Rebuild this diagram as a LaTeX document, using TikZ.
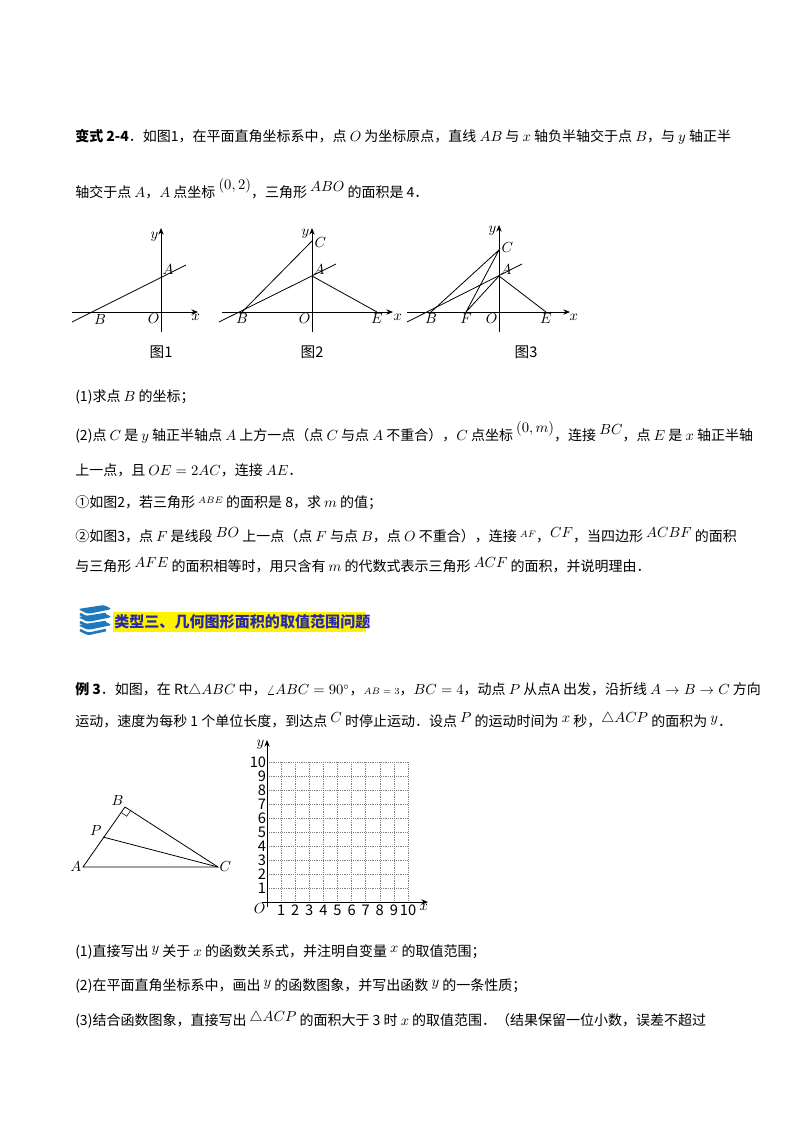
\documentclass[tikz,border=0pt]{standalone}
\usepackage{fontspec}
\setmainfont{Noto Sans CJK SC}
\usetikzlibrary{arrows.meta,calc}
\definecolor{bk}{RGB}{30,120,190}
\definecolor{hd}{RGB}{40,40,170}
\begin{document}
\begin{tikzpicture}[x=0.75pt,y=-0.75pt,
 txt/.style={anchor=west,inner sep=0pt,font=\fontsize{10.5}{12}\selectfont},
 lb/.style={inner sep=1pt,font=\fontsize{11}{12}\selectfont},
 ax/.style={-{Stealth[length=5pt,width=4pt]},line width=0.6pt},
 ln/.style={line width=0.6pt},
 grd/.style={densely dotted,gray,line width=0.4pt}]
\useasboundingbox (0,0) rectangle (800,1132);
% text
\node[txt] (t1) at (75,137) {\textbf{变式 2-4}．如图1，在平面直角坐标系中，点 $O$ 为坐标原点，直线 $AB$ 与 $x$ 轴负半轴交于点 $B$，与 $y$ 轴正半};
\node[txt] (t2) at (75,189) {轴交于点 $A$，$A$ 点坐标 $\raisebox{6pt}{$(0,2)$}$，三角形 $\raisebox{5pt}{$ABO$}$ 的面积是 4．};
\node[txt] (t3) at (75,397) {(1)求点 $B$ 的坐标；};
\node[txt] (t4) at (75,432) {(2)点 $C$ 是 $y$ 轴正半轴点 $A$ 上方一点（点 $C$ 与点 $A$ 不重合），$C$ 点坐标 $\raisebox{6pt}{$(0,m)$}$，连接 $\raisebox{4pt}{$BC$}$，点 $E$ 是 $x$ 轴正半轴};
\node[txt] (t5) at (75,470) {上一点，且 $OE=2AC$，连接 $AE$．};
\node[txt] (t6) at (75,503) {①如图2，若三角形 $\raisebox{3pt}{\scriptsize$ABE$}$ 的面积是 8，求 $m$ 的值；};
\node[txt] (t7) at (75,535) {②如图3，点 $F$ 是线段 $\raisebox{3pt}{$BO$}$ 上一点（点 $F$ 与点 $B$，点 $O$ 不重合），连接 $\raisebox{3pt}{\scriptsize$AF$}$，$\raisebox{3pt}{$CF$}$，当四边形 $\raisebox{3pt}{$ACBF$}$ 的面积};
\node[txt] (t8) at (75,565) {与三角形 $\raisebox{3pt}{$AFE$}$ 的面积相等时，用只含有 $m$ 的代数式表示三角形 $\raisebox{3pt}{$ACF$}$ 的面积，并说明理由．};
% heading
\fill[yellow] (113,612) rectangle (366,632);
\node[txt,text=hd,font=\fontsize{11.3}{12}\selectfont] (h) at (114,622) {\textbf{类型三、几何图形面积的取值范围问题}};
\foreach \d in {0,8,16}{
 \fill[bk,rounded corners=2pt] (78,609+\d) -- (104,605+\d) -- (112,609+\d) -- (88,614+\d) -- cycle;
 \draw[bk,line width=2pt,rounded corners=2pt] (106,614+\d) -- (88,618+\d) -- (80,614+\d);}
\node[txt] (t9) at (75,690) {\textbf{例 3}．如图，在 Rt$\triangle ABC$ 中，$\angle ABC=90^\circ$，{\scriptsize$AB=3$}，$BC=4$，动点 $P$ 从点A 出发，沿折线 $A\to B\to C$ 方向};
\node[txt] (t10) at (75,720) {运动，速度为每秒 1 个单位长度，到达点 $\raisebox{3pt}{$C$}$ 时停止运动．设点 $\raisebox{3pt}{$P$}$ 的运动时间为 $\raisebox{3pt}{$x$}$ 秒，$\raisebox{3pt}{$\triangle ACP$}$ 的面积为 $\raisebox{3pt}{$y$}$．};
\node[txt] (t11) at (75,952) {(1)直接写出 $\raisebox{3pt}{$y$}$ 关于 $x$ 的函数关系式，并注明自变量 $\raisebox{3pt}{$x$}$ 的取值范围；};
\node[txt] (t12) at (75,986) {(2)在平面直角坐标系中，画出 $\raisebox{3pt}{$y$}$ 的函数图象，并写出函数 $\raisebox{3pt}{$y$}$ 的一条性质；};
\node[txt] (t13) at (75,1020) {(3)结合函数图象，直接写出 $\raisebox{3pt}{$\triangle ACP$}$ 的面积大于 3 时 $x$ 的取值范围．（结果保留一位小数，误差不超过};
% fig 1
\coordinate (O1) at (161,312); \coordinate (A1) at (161,276); \coordinate (B1) at (97,312);
\draw[ax] (72,312) -- (198,312);
\draw[ax] (161,332) -- (161,228);
\draw[ln] (72,322) -- (186,265);
\node[lb,anchor=south east] at (160,243) {$y$};
\node[lb,anchor=north west] at (190,313) {$x$};
\node[lb,anchor=south west] at (A1) {$A$};
\node[lb,anchor=north] at (100,313) {$B$};
\node[lb,anchor=north east] at (O1) {$O$};
\node[lb] at (161,352) {图1};
% fig 2
\coordinate (O2) at (312,312); \coordinate (A2) at (312,276); \coordinate (B2) at (242,312);
\coordinate (C2) at (312,241); \coordinate (E2) at (377,312);
\draw[ax] (222,312) -- (393,312);
\draw[ax] (312,332) -- (312,228);
\draw[ln] (219,322) -- (336,264);
\draw[ln] (B2) -- (C2); \draw[ln] (A2) -- (E2);
\node[lb,anchor=south east] at (311,240) {$y$};
\node[lb,anchor=north west] at (392,313) {$x$};
\node[lb,anchor=west] at (313,243) {$C$};
\node[lb,anchor=south west] at (A2) {$A$};
\node[lb,anchor=north] at (B2) {$B$};
\node[lb,anchor=north east] at (O2) {$O$};
\node[lb,anchor=north] at (E2) {$E$};
\node[lb] at (312,352) {图2};
% fig 3
\coordinate (O3) at (499,312); \coordinate (A3) at (499,276); \coordinate (B3) at (431,312);
\coordinate (C3) at (499,250); \coordinate (E3) at (546,312); \coordinate (F3) at (466,312);
\draw[ax] (407,312) -- (570,312);
\draw[ax] (499,332) -- (499,225);
\draw[ln] (407,322) -- (522,264);
\draw[ln] (B3) -- (C3) -- (F3) -- (A3) -- (E3);
\node[lb,anchor=south east] at (498,237) {$y$};
\node[lb,anchor=north west] at (568,313) {$x$};
\node[lb,anchor=west] at (500,248) {$C$};
\node[lb,anchor=south west] at (A3) {$A$};
\node[lb,anchor=north] at (B3) {$B$};
\node[lb,anchor=north] at (F3) {$F$};
\node[lb,anchor=north east] at (O3) {$O$};
\node[lb,anchor=north] at (E3) {$E$};
\node[lb] at (526,352) {图3};
% triangle
\coordinate (A) at (83,867); \coordinate (B) at (125,807); \coordinate (C) at (218,867); \coordinate (P) at (103,837);
\draw[ln] (A) -- (B) -- (C) -- cycle; \draw[ln] (P) -- (C);
\draw[line width=0.4pt] ($(B)!5pt!(A)$) -- ($(B)!5pt!(A)!5pt!90:(A)$) -- ($(B)!5pt!(C)$);
\node[lb,anchor=east] at (A) {$A$};
\node[lb,anchor=south east] at (B) {$B$};
\node[lb,anchor=south east] at (P) {$P$};
\node[lb,anchor=west] at (C) {$C$};
% grid
\foreach \i in {1,...,10}{
 \draw[grd] ({267+14.1*\i},762) -- ({267+14.1*\i},902);
 \draw[grd] (267,{902-14*\i}) -- (408,{902-14*\i});
 \node[lb,anchor=east,inner sep=0.5pt] at (267,{902-14*\i}) {\i};
 \node[lb,anchor=north,inner sep=1pt] at ({267+14.1*\i},903) {\i};}
\draw[ax] (262,902) -- (428,902);
\draw[ax] (267,907) -- (267,740);
\node[lb,anchor=east] at (266,745) {$y$};
\node[lb,anchor=north east] at (267,902) {$O$};
\node[lb,anchor=north west] at (418,903) {$x$};
\end{tikzpicture}
\end{document}
